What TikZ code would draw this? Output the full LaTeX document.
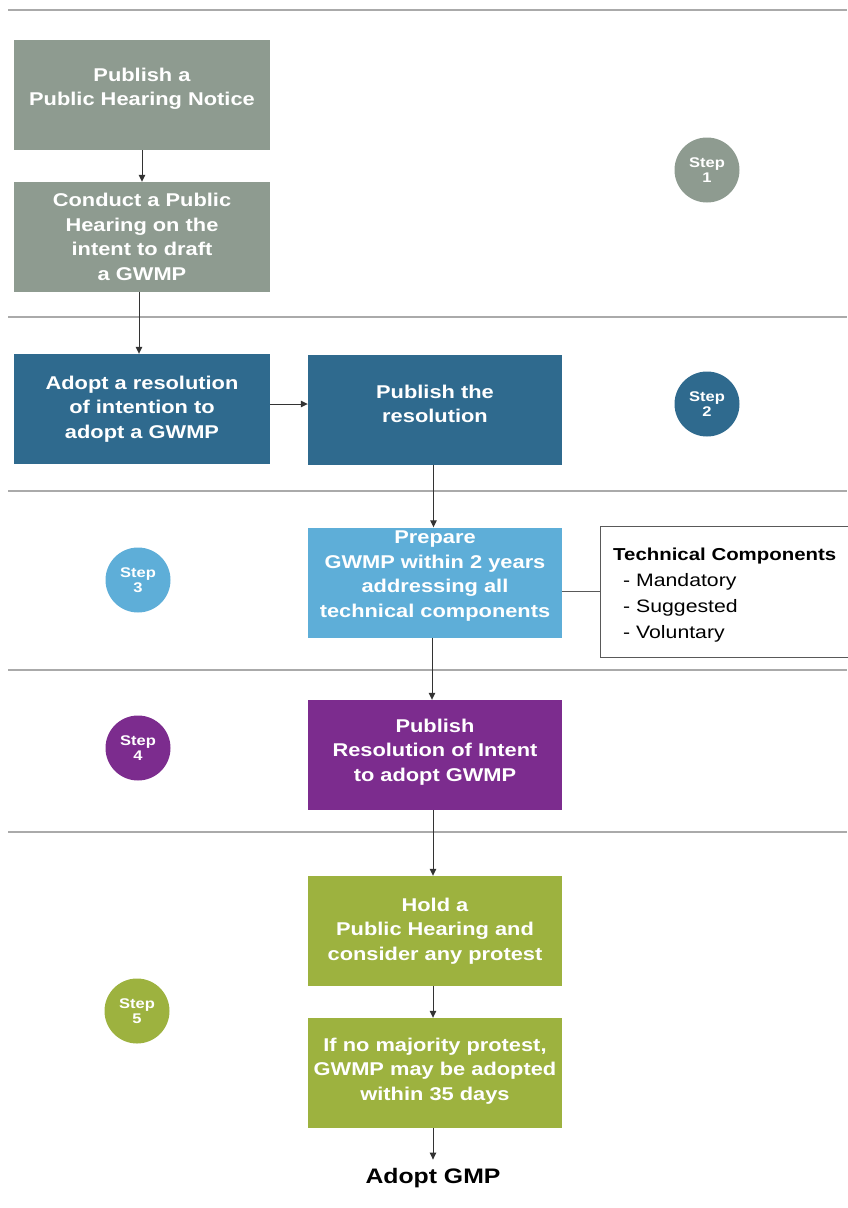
\documentclass[tikz,border=0pt]{standalone}
\usepackage{fontspec}
\setmainfont{Liberation Sans}
\newfontfamily\wfont{Liberation Sans}[FakeStretch=1.18]
\usetikzlibrary{arrows.meta}
\definecolor{cgray}{RGB}{142,155,144}
\definecolor{cdblue}{RGB}{47,106,142}
\definecolor{clblue}{RGB}{94,174,216}
\definecolor{cpurple}{RGB}{124,44,142}
\definecolor{cgreen}{RGB}{157,178,63}
\definecolor{csep}{RGB}{170,170,170}
\tikzset{
  box/.style={minimum width=#1, minimum height=110pt, inner sep=0pt},
  box/.default=256pt,
  boxtxt/.style={inner sep=0pt, align=center, text=white,
    font=\wfont\fontsize{18.5}{24.5}\selectfont\bfseries},
  stepc/.style={circle, minimum size=65pt, inner sep=0pt, align=center, text=white,
    font=\wfont\fontsize{14}{15.5}\selectfont\bfseries},
  sep/.style={draw=csep, line width=1.3pt},
  arr/.style={draw=black!80, line width=1pt, -{Triangle[length=7pt,width=6.5pt]}},
  tctext/.style={anchor=base west, inner sep=0pt, font=\wfont\fontsize{18}{24}\selectfont},
}
\begin{document}
\begin{tikzpicture}[x=1pt,y=-1pt]
\useasboundingbox (0,0) rectangle (847,1208);
% separators
\draw[sep] (8,10) -- (847,10);
\draw[sep] (8,317) -- (847,317);
\draw[sep] (8,491) -- (847,491);
\draw[sep] (8,670) -- (847,670);
\draw[sep] (8,832) -- (847,832);
% boxes
\node[box, fill=cgray] (b1) at (142,95) {};
\node[box, fill=cgray] (b2) at (142,237) {};
\node[box, fill=cdblue] (b3) at (142,409) {};
\node[box=254pt, fill=cdblue] (b4) at (435,409.5) {};
\node[box=254pt, fill=clblue] (b5) at (435,582.5) {};
\node[box=254pt, fill=cpurple] (b6) at (435,755) {};
\node[box=254pt, fill=cgreen] (b7) at (435,931) {};
\node[box=254pt, fill=cgreen] (b8) at (435,1073) {};
% box texts
\node[boxtxt] (b1t) at (142,89) {Publish a\\Public Hearing Notice};
\node[boxtxt] (b2t) at (142,237) {Conduct a Public\\Hearing on the\\intent to draft\\a GWMP};
\node[boxtxt] (b3t) at (142,409) {Adopt a resolution\\of intention to\\adopt a GWMP};
\node[boxtxt] (b4t) at (435,404) {Publish the\\resolution};
\node[boxtxt] (b5t) at (435,576) {Prepare\\GWMP within 2 years\\addressing all\\technical components};
\node[boxtxt] (b6t) at (435,752) {Publish\\Resolution of Intent\\to adopt GWMP};
\node[boxtxt] (b7t) at (435,931) {Hold a\\Public Hearing and\\consider any protest};
\node[boxtxt] (b8t) at (435,1071) {If no majority protest,\\GWMP may be adopted\\within 35 days};
% end label
\node[anchor=base, inner xsep=2pt, inner ysep=8pt, font=\wfont\fontsize{21}{24}\selectfont\bfseries] (end) at (433,1183) {Adopt GMP};
% technical components
\node[draw=black!65, line width=0.9pt, minimum width=270pt, minimum height=131pt, anchor=west, inner sep=0pt] (tc) at (600,591.5) {};
\node[tctext, font=\wfont\fontsize{17.3}{24}\selectfont\bfseries] (tc0) at (613,560) {Technical Components};
\node[tctext] (tc1) at (623,586) {- Mandatory};
\node[tctext] (tc2) at (623,612) {- Suggested};
\node[tctext] (tc3) at (623,638) {- Voluntary};
% step circles
\node[stepc, fill=cgray] (s1) at (707,170) {Step\\1};
\node[stepc, fill=cdblue] (s2) at (707,404) {Step\\2};
\node[stepc, fill=clblue] (s3) at (138,580) {Step\\3};
\node[stepc, fill=cpurple] (s4) at (138,748) {Step\\4};
\node[stepc, fill=cgreen] (s5) at (137,1011) {Step\\5};
% connectors
\draw[arr] (b1) -- (b2);
\draw[arr] ([xshift=-3pt]b2.south) -- ([xshift=-3pt]b3.north);
\draw[arr] ([yshift=5pt]b3.east) -- ([yshift=5pt]b3.east -| b4.west);
\draw[arr] ([xshift=-1.5pt]b4.south) -- ([xshift=-1.5pt]b5.north);
\draw[arr] ([xshift=-3pt]b5.south) -- ([xshift=-3pt]b6.north);
\draw[arr] ([xshift=-2pt]b6.south) -- ([xshift=-2pt]b7.north);
\draw[arr] ([xshift=-2pt]b7.south) -- ([xshift=-2pt]b8.north);
\draw[arr] (b8.south -| end.north) -- (end.north);
\draw[draw=black!65, line width=0.9pt] (tc.west) -- (tc.west -| b5.east);
\end{tikzpicture}
\end{document}
